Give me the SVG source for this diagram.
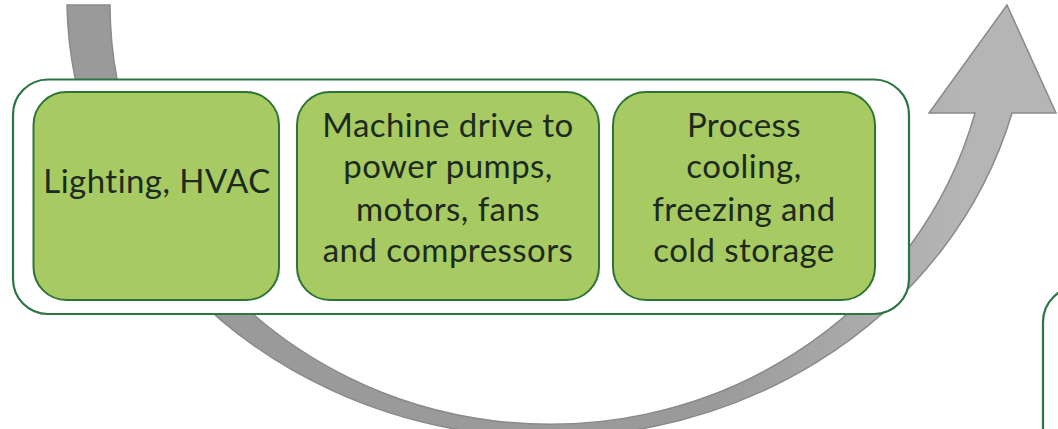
<svg xmlns="http://www.w3.org/2000/svg" width="1058" height="429" viewBox="0 0 1058 429">
  <style>
    .container { fill: #ffffff; stroke: #2d7544; stroke-width: 2.2; }
    .box { fill: #a7ca63; stroke: #2f7437; stroke-width: 2; }
    .label { font-family: Lato, "Liberation Sans", sans-serif; font-size: 33px; fill: #1d2a1f; text-anchor: middle; letter-spacing: 0.45px; font-variant-ligatures: none; font-feature-settings: "liga" 0; }
  </style>
  <defs>
    <linearGradient id="arrowGrad" gradientUnits="userSpaceOnUse" x1="60" y1="0" x2="1058" y2="0">
      <stop offset="0" stop-color="#9a9a9a"/>
      <stop offset="0.65" stop-color="#9a9a9a"/>
      <stop offset="0.9" stop-color="#b5b5b5"/>
      <stop offset="1" stop-color="#b5b5b5"/>
    </linearGradient>
  </defs>

  <g id="connectors">
    <path id="cycle-arrow" d="M 67,5 L 110,5 A 440 420 0 0 0 975,113 L 929,113 L 1007,5 L 1056,113 L 1012,113 A 481 440 0 0 1 67,5 Z" fill="url(#arrowGrad)" stroke="#8a8a8a" stroke-width="1.5" stroke-linejoin="miter"/>
  </g>

  <g id="group-container">
    <rect class="container" x="13" y="79.5" width="896" height="234.5" rx="35" ry="35"/>
  </g>

  <g id="node-lighting">
    <rect class="box" x="33.5" y="92" width="245.5" height="208" rx="33" ry="33"/>
    <text class="label" x="157" y="193">Lighting, HVAC</text>
  </g>

  <g id="node-machine-drive">
    <rect class="box" x="297" y="92" width="302" height="208" rx="33" ry="33"/>
    <text class="label" x="448" y="137">Machine drive to</text>
    <text class="label" x="448" y="178">power pumps,</text>
    <text class="label" x="448" y="221">motors, fans</text>
    <text class="label" x="448" y="262">and compressors</text>
  </g>

  <g id="node-process-cooling">
    <rect class="box" x="613" y="92" width="262" height="208" rx="33" ry="33"/>
    <text class="label" x="744" y="137">Process</text>
    <text class="label" x="744" y="178">cooling,</text>
    <text class="label" x="744" y="221">freezing and</text>
    <text class="label" x="744" y="262">cold storage</text>
  </g>

  <g id="group-next">
    <rect class="container" x="1043" y="287" width="300" height="300" rx="35" ry="35"/>
  </g>
</svg>
